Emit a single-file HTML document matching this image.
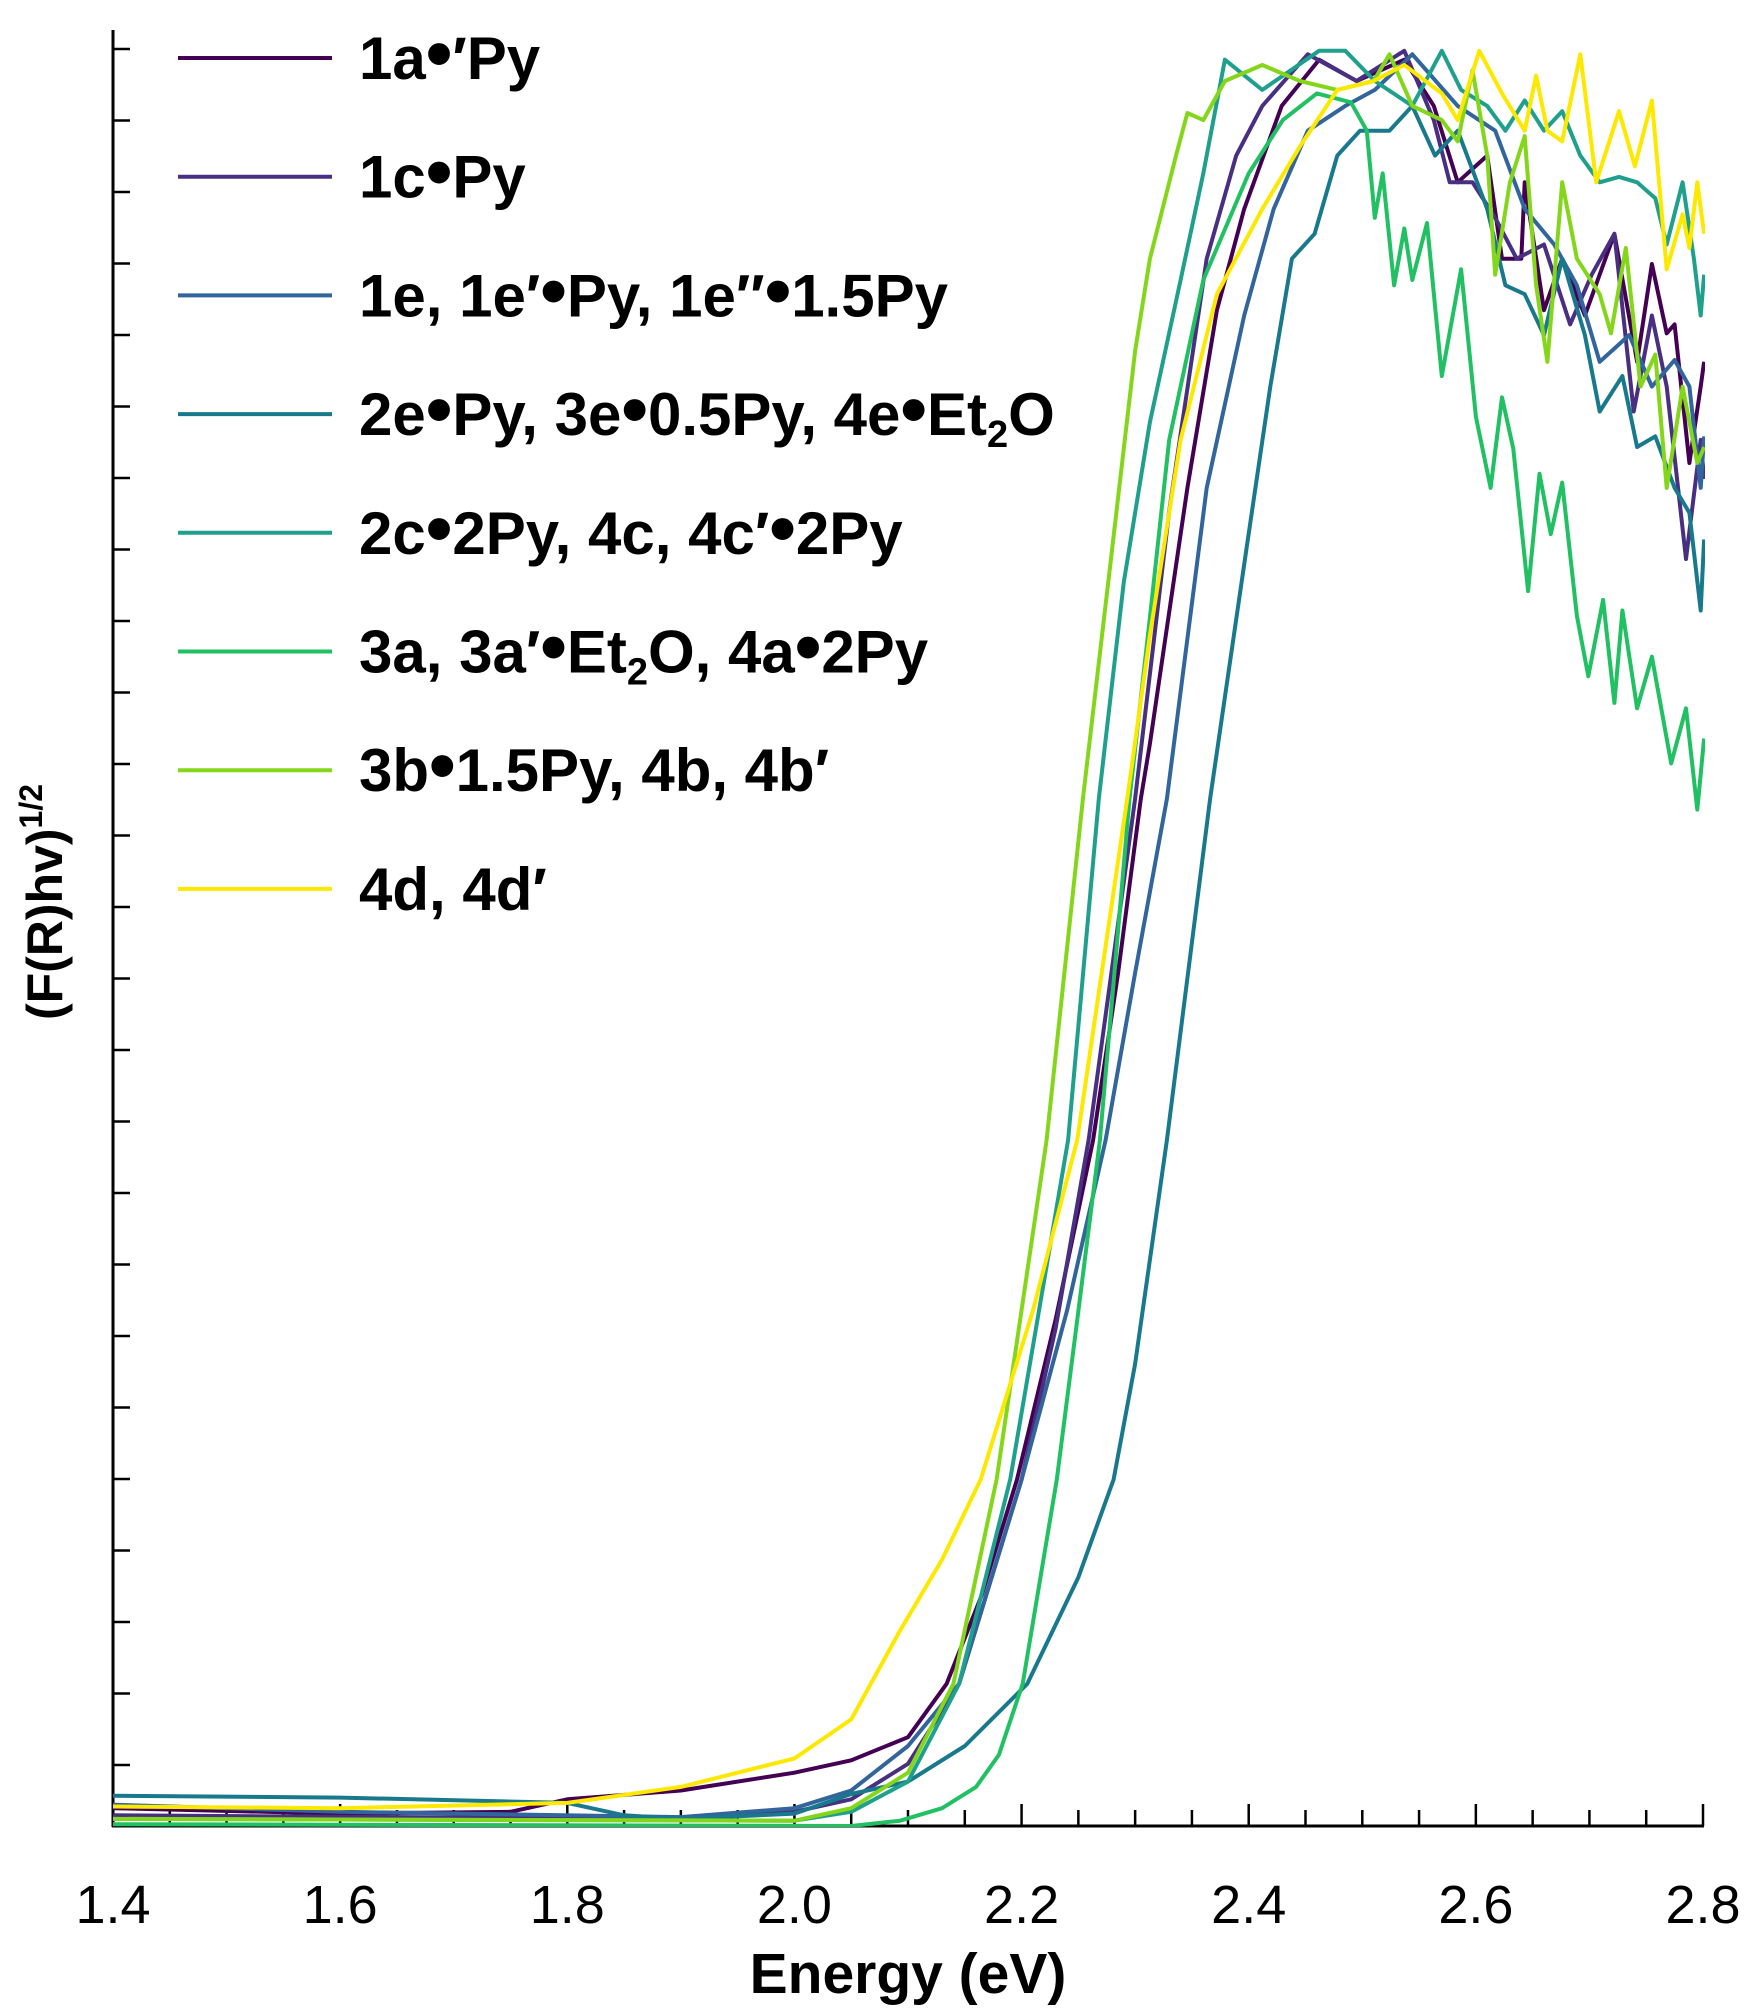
<!DOCTYPE html>
<html><head><meta charset="utf-8"><style>
html,body{margin:0;padding:0;background:#fff;}
svg{display:block;font-family:"Liberation Sans",Arial,sans-serif;}
</style></head><body>
<svg id="chart" width="1760" height="2014" viewBox="0 0 1760 2014" xmlns="http://www.w3.org/2000/svg">
<defs><clipPath id="plotclip"><rect x="113" y="30" width="1592" height="1797"/></clipPath></defs>
<g id="axes"></g>
<g id="series" clip-path="url(#plotclip)"></g>
<g id="legend"></g>
<text x="908" y="1993" text-anchor="middle" font-size="57" font-weight="bold">Energy (eV)</text>
<text transform="translate(62,902) rotate(-90)" text-anchor="middle" font-size="50" font-weight="bold">(F(R)hv)<tspan font-size="32" dy="-20">1/2</tspan></text>
</svg>
<script>
const xTickLabels = ["1.4","1.6","1.8","2.0","2.2","2.4","2.6","2.8"];
const seriesNames = ["1a\u2022\u2032Py","1c\u2022Py","1e, 1e\u2032\u2022Py, 1e\u2033\u20221.5Py","2e\u2022Py, 3e\u20220.5Py, 4e\u2022Et2O","2c\u20222Py, 4c, 4c\u2032\u20222Py","3a, 3a\u2032\u2022Et2O, 4a\u20222Py","3b\u20221.5Py, 4b, 4b\u2032","4d, 4d\u2032"];
const seriesColors = ["#440154","#482f81","#31659c","#18798d","#1ea08c","#21c063","#84d61a","#fde800"];
const s1a = [[1.4,0.01],[1.6,0.007],[1.75,0.008],[1.8,0.015],[1.9,0.02],[2.0,0.03],[2.05,0.037],[2.1,0.05],[2.134,0.08],[2.165,0.13],[2.196,0.195],[2.23,0.285],[2.263,0.386],[2.285,0.48],[2.305,0.578],[2.313,0.609],[2.346,0.753],[2.372,0.853],[2.396,0.91],[2.429,0.968],[2.462,0.994],[2.495,0.982],[2.537,0.994],[2.563,0.968],[2.584,0.925],[2.61,0.94],[2.623,0.882],[2.64,0.882],[2.643,0.925],[2.66,0.853],[2.676,0.882],[2.696,0.85],[2.722,0.896],[2.742,0.824],[2.755,0.879],[2.768,0.84],[2.775,0.845],[2.788,0.767],[2.798,0.81],[2.801,0.824]];
const s1c = [[1.4,0.006],[1.9,0.004],[2.0,0.008],[2.05,0.015],[2.1,0.035],[2.145,0.08],[2.2,0.195],[2.23,0.28],[2.259,0.386],[2.3,0.578],[2.33,0.74],[2.363,0.882],[2.389,0.94],[2.412,0.968],[2.452,0.997],[2.495,0.982],[2.537,0.999],[2.563,0.96],[2.577,0.925],[2.597,0.925],[2.617,0.905],[2.636,0.882],[2.66,0.89],[2.683,0.845],[2.702,0.873],[2.722,0.896],[2.739,0.796],[2.755,0.85],[2.768,0.81],[2.785,0.713],[2.798,0.78],[2.801,0.758]];
const s1e = [[1.4,0.012],[1.6,0.008],[1.9,0.005],[2.0,0.01],[2.05,0.02],[2.1,0.045],[2.145,0.08],[2.2,0.195],[2.24,0.29],[2.274,0.386],[2.3,0.48],[2.328,0.578],[2.363,0.753],[2.396,0.85],[2.422,0.91],[2.452,0.954],[2.485,0.968],[2.511,0.977],[2.544,0.997],[2.584,0.968],[2.617,0.954],[2.643,0.91],[2.669,0.89],[2.689,0.867],[2.709,0.824],[2.735,0.839],[2.755,0.81],[2.775,0.825],[2.788,0.81],[2.798,0.753],[2.801,0.782]];
const s2e = [[1.4,0.017],[1.6,0.016],[1.8,0.013],[1.85,0.006],[1.9,0.004],[2.0,0.007],[2.05,0.018],[2.1,0.025],[2.15,0.045],[2.205,0.08],[2.25,0.14],[2.281,0.195],[2.3,0.26],[2.328,0.386],[2.366,0.578],[2.396,0.71],[2.419,0.81],[2.438,0.882],[2.458,0.896],[2.478,0.94],[2.498,0.954],[2.524,0.954],[2.544,0.968],[2.564,0.94],[2.584,0.954],[2.61,0.91],[2.626,0.867],[2.643,0.862],[2.66,0.839],[2.676,0.882],[2.696,0.839],[2.709,0.796],[2.729,0.816],[2.742,0.776],[2.758,0.782],[2.775,0.753],[2.788,0.739],[2.798,0.684],[2.801,0.724]];
const s2c = [[1.4,0.004],[2.0,0.003],[2.05,0.008],[2.1,0.025],[2.145,0.08],[2.19,0.195],[2.241,0.386],[2.268,0.578],[2.29,0.7],[2.313,0.79],[2.34,0.87],[2.36,0.93],[2.379,0.994],[2.412,0.977],[2.462,0.999],[2.485,0.999],[2.511,0.982],[2.544,0.968],[2.57,0.999],[2.587,0.977],[2.61,0.968],[2.626,0.954],[2.643,0.971],[2.66,0.954],[2.676,0.965],[2.692,0.94],[2.709,0.925],[2.726,0.928],[2.742,0.925],[2.758,0.916],[2.768,0.89],[2.782,0.925],[2.792,0.882],[2.798,0.85],[2.801,0.873]];
const s3a = [[1.4,0.001],[2.05,0.0],[2.093,0.003],[2.13,0.01],[2.16,0.022],[2.18,0.04],[2.201,0.08],[2.231,0.195],[2.25,0.29],[2.269,0.386],[2.295,0.578],[2.313,0.68],[2.33,0.78],[2.36,0.87],[2.4,0.93],[2.43,0.96],[2.46,0.975],[2.49,0.97],[2.504,0.954],[2.511,0.905],[2.518,0.93],[2.528,0.867],[2.537,0.899],[2.544,0.87],[2.557,0.902],[2.57,0.816],[2.587,0.876],[2.6,0.793],[2.613,0.753],[2.623,0.804],[2.633,0.775],[2.646,0.695],[2.656,0.761],[2.666,0.727],[2.676,0.756],[2.689,0.681],[2.699,0.647],[2.712,0.69],[2.722,0.632],[2.729,0.684],[2.742,0.629],[2.755,0.658],[2.772,0.598],[2.785,0.629],[2.795,0.572],[2.801,0.612]];
const s3b = [[1.4,0.004],[2.0,0.003],[2.05,0.01],[2.1,0.03],[2.14,0.08],[2.178,0.195],[2.222,0.386],[2.254,0.578],[2.28,0.72],[2.3,0.83],[2.313,0.882],[2.336,0.94],[2.346,0.964],[2.36,0.96],[2.379,0.982],[2.412,0.991],[2.445,0.982],[2.478,0.977],[2.51,0.982],[2.524,0.997],[2.544,0.968],[2.57,0.96],[2.584,0.948],[2.597,0.988],[2.61,0.94],[2.617,0.873],[2.63,0.925],[2.643,0.951],[2.653,0.867],[2.663,0.824],[2.676,0.925],[2.689,0.882],[2.709,0.862],[2.719,0.84],[2.732,0.888],[2.745,0.81],[2.758,0.828],[2.768,0.753],[2.782,0.81],[2.795,0.767],[2.801,0.776]];
const s4d = [[1.4,0.011],[1.6,0.01],[1.8,0.013],[1.9,0.022],[1.95,0.03],[2.0,0.038],[2.05,0.06],[2.093,0.11],[2.13,0.15],[2.164,0.195],[2.21,0.29],[2.249,0.386],[2.293,0.578],[2.313,0.67],[2.34,0.78],[2.372,0.862],[2.412,0.91],[2.445,0.945],[2.478,0.977],[2.51,0.982],[2.537,0.991],[2.57,0.975],[2.584,0.96],[2.603,0.999],[2.623,0.975],[2.643,0.954],[2.653,0.985],[2.663,0.954],[2.676,0.948],[2.692,0.997],[2.706,0.925],[2.726,0.965],[2.74,0.934],[2.755,0.971],[2.768,0.876],[2.782,0.907],[2.788,0.888],[2.795,0.925],[2.801,0.896]];
const allSeries = [s1a,s1c,s1e,s2e,s2c,s3a,s3b,s4d];
const seriesKeys = ["1a","1c","1e","2e","2c","3a","3b","4d"];

const NS = "http://www.w3.org/2000/svg";
const X0 = 113, X1 = 1703, Y0 = 1826, Y1 = 49;
function xs(e){ return X0 + (e - 1.4) / 1.4 * (X1 - X0); }
function ys(v){ return Y0 - v * (Y0 - Y1); }
function mk(tag, attrs, parent){ const el = document.createElementNS(NS, tag); for (const k in attrs) el.setAttribute(k, attrs[k]); parent.appendChild(el); return el; }

const axes = document.getElementById('axes');
const yAxis = mk('line', {x1:X0, y1:30, x2:X0, y2:Y0+1, stroke:'#000','stroke-width':3}, axes);


const xAxis = mk('line', {x1:X0-1, y1:Y0, x2:X1+1, y2:Y0, stroke:'#000','stroke-width':3}, axes);


for (let k = 0; k < 25; k++) {
  const y = Y1 + k * 71.5;
  const t = mk('line', {x1:X0, y1:y, x2:X0+17, y2:y, stroke:'#000','stroke-width':2.5}, axes);
  
  
}
for (let k = 0; k <= 28; k++) {
  const e = 1.4 + k * 0.05;
  const major = (k % 4 === 0);
  const t = mk('line', {x1:xs(e), y1:Y0, x2:xs(e), y2:Y0 - (major ? 22 : 16), stroke:'#000','stroke-width':2.5}, axes);
  
  
}
xTickLabels.forEach(function(lab){
  const t = mk('text', {x:xs(parseFloat(lab)), y:1923, 'text-anchor':'middle', 'font-size':54}, axes);
  t.textContent = lab;
  
  
});

const sg = document.getElementById('series');
allSeries.forEach(function(data, i){
  const pts = data.map(function(p){ return xs(p[0]).toFixed(1) + ',' + ys(p[1]).toFixed(1); }).join(' ');
  const pl = mk('polyline', {points:pts, fill:'none', stroke:seriesColors[i], 'stroke-width':4, 'stroke-linejoin':'round'}, sg);
  
  
});

const lg = document.getElementById('legend');
seriesNames.forEach(function(name, i){
  const y = 58 + i * 118.7;
  const g = mk('g', {}, lg);
  
  
  mk('line', {x1:178, y1:y, x2:332, y2:y, stroke:seriesColors[i], 'stroke-width':4}, g);
  const t = mk('text', {x:359, y:y + 21, 'font-size':60, 'font-weight':'bold'}, g);
  const parts = name.split('Et2O');
  parts.forEach(function(part, j){
    const segs = part.split('\u2022');
    segs.forEach(function(s, m){
      if (m > 0) { const b = mk('tspan', {'font-size':76}, t); b.textContent = '\u2022'; }
      if (s) { const ts = mk('tspan', {'font-size':60}, t); ts.textContent = s; }
    });
    if (j < parts.length - 1) {
      const a = mk('tspan', {}, t); a.textContent = 'Et';
      const sub = mk('tspan', {'font-size':38, dy:12}, t); sub.textContent = '2';
      const o = mk('tspan', {dy:-12}, t); o.textContent = 'O';
    }
  });
});
</script>
</body></html>
